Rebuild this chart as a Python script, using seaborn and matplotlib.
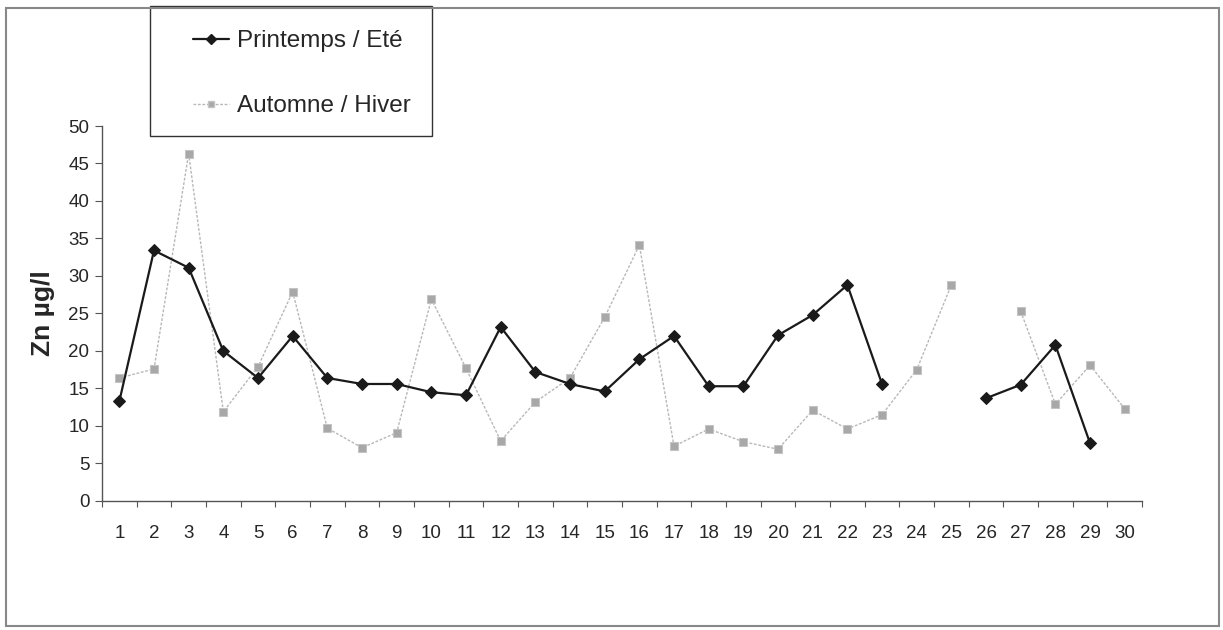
import numpy as np
import pandas as pd
import matplotlib
matplotlib.use("Agg")
import matplotlib.pyplot as plt
import seaborn as sns
from matplotlib.patches import Rectangle
from matplotlib.lines import Line2D

sites = list(range(1, 31))
printemps_ete = [13.3, 33.4, 31.1, 20.0, 16.4, 22.0, 16.4, 15.6, 15.6, 14.5,
                 14.1, 23.2, 17.2, 15.6, 14.6, 18.9, 22.0, 15.3, 15.3, 22.1,
                 24.8, 28.8, 15.6, np.nan, np.nan, 13.7, 15.5, 20.8, 7.7, np.nan]
automne_hiver = [16.4, 17.6, 46.3, 11.9, 17.9, 27.9, 9.7, 7.1, 9.1, 26.9,
                 17.7, 8.0, 13.2, 16.4, 24.5, 34.1, 7.3, 9.6, 7.9, 6.9,
                 12.1, 9.6, 11.5, 17.5, 28.8, np.nan, 25.3, 12.9, 18.1, 12.3]
labels = ["Printemps / Eté", "Automne / Hiver"]


def segments(values):
    # separate runs of data so the line breaks where a site is missing
    df = pd.DataFrame({"site": sites, "zn": values})
    df["seg"] = df["zn"].isna().cumsum()
    return df.dropna()


sns.set_style("white")
plt.rcParams['font.family'] = ['Liberation Sans', 'DejaVu Sans']

fig = plt.figure(figsize=(12.23, 6.3), dpi=100)
ax = fig.add_axes([0.0834, 0.2048, 0.8504, 0.5952])

df1 = segments(printemps_ete)
df2 = segments(automne_hiver)

sns.lineplot(data=df2, x="site", y="zn", units="seg", ax=ax, estimator=None,
             color="#b8b8b8", linewidth=1.0, linestyle=(0, (2, 1.2)), marker="s",
             markersize=6, markerfacecolor="#a8a8a8", markeredgecolor="#c4c4c4")
sns.lineplot(data=df1, x="site", y="zn", units="seg", ax=ax, estimator=None,
             color="#1a1a1a", linewidth=1.6, marker="D", markersize=6,
             markerfacecolor="#1a1a1a", markeredgecolor="#1a1a1a")

ax.set_xlim(0.5, 30.5)
ax.set_ylim(0, 50)
ax.set_yticks(range(0, 51, 5))
ax.set_xticks(sites)
ax.set_xticklabels([str(s) for s in sites], fontsize=13.5)
ax.set_xticks(np.arange(0.5, 31, 1), minor=True)
ax.tick_params(axis="x", which="major", length=0, pad=17)
ax.tick_params(axis="x", which="minor", length=4, width=0.8, color="#555555", bottom=True)
ax.tick_params(axis="y", length=5, width=0.8, color="#555555", left=True, labelsize=13.5, pad=4)
for s in ["top", "right"]:
    ax.spines[s].set_visible(False)
for s in ["left", "bottom"]:
    ax.spines[s].set_color("#555555")
    ax.spines[s].set_linewidth(1.0)
ax.set_xlabel("")
ax.set_ylabel("Zn µg/l", fontsize=19, fontweight="bold", labelpad=10)

# legend: handles built to match the two series
h = [Line2D([], [], color="#1a1a1a", linewidth=1.6, marker="D", markersize=5),
     Line2D([], [], color="#b8b8b8", linewidth=1.0, linestyle=(0, (2, 1.2)), marker="s",
            markersize=5, markerfacecolor="#a8a8a8", markeredgecolor="#c4c4c4")]
fig.legend(h, labels, loc="upper left", bbox_to_anchor=(193 / 1223, 1 - 30 / 630),
           fontsize=17.5, frameon=False, labelspacing=1.78, handlelength=1.5,
           handletextpad=0.3, borderpad=0, borderaxespad=0)
fig.patches.append(Rectangle((150 / 1223, 1 - 136 / 630), 282 / 1223, 130 / 630,
                             transform=fig.transFigure, fill=False,
                             edgecolor="#333333", linewidth=1.0))

fig.patches.append(Rectangle((0.005, 0.006), 0.992, 0.981, transform=fig.transFigure,
                             fill=False, edgecolor="#888888", linewidth=1.5))

fig.savefig("out.png", dpi=100)
